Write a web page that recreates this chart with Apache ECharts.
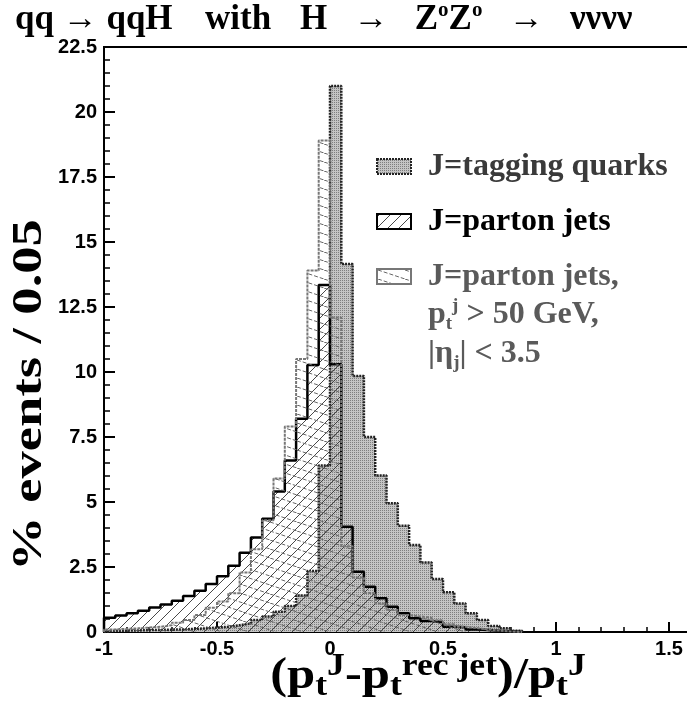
<!DOCTYPE html>
<html>
<head>
<meta charset="utf-8">
<script src="https://cdn.jsdelivr.net/npm/echarts@6.0.0/dist/echarts.min.js"></script>
<style>
html, body { margin: 0; padding: 0; background: #fff; }
#chart { width: 687px; height: 703px; }
</style>
</head>
<body>
<div id="chart"></div>
<script>
// histogram bins: 0.05 wide, first bin starts at -1
var binStart = -1;
var binWidth = 0.05;
var xTicks = [-1, -0.5, 0, 0.5, 1, 1.5];

// J = tagging quarks (grey filled)
var tagQuarks = [0.05, 0.05, 0.06, 0.07, 0.08, 0.09, 0.1, 0.12, 0.14, 0.17, 0.2, 0.26,
  0.33, 0.46, 0.6, 0.78, 1.0, 1.4, 2.35, 6.4, 21.0, 14.15, 9.85, 7.5, 6.02, 4.95,
  4.09, 3.35, 2.67, 2.04, 1.53, 1.1, 0.72, 0.46, 0.23, 0.14, 0.05];
// J = parton jets (black outline)
var partonJets = [0.55, 0.63, 0.72, 0.82, 0.94, 1.06, 1.2, 1.38, 1.59, 1.85, 2.14, 2.55,
  3.05, 3.63, 4.36, 5.4, 6.6, 8.2, 10.27, 13.35, 10.3, 4.05, 2.32, 1.74, 1.3, 0.97,
  0.72, 0.53, 0.42, 0.38, 0.2, 0.18, 0.1, 0.08, 0.05, 0.03, 0];
// J = parton jets with pt and eta cuts (grey outline)
var partonJetsCut = [0.1, 0.12, 0.14, 0.17, 0.2, 0.26, 0.36, 0.46, 0.65, 0.93, 1.17, 1.49,
  2.29, 3.18, 4.3, 5.9, 7.9, 10.5, 13.9, 18.9, 12.1, 3.3, 2.1, 1.5, 1.1, 0.85,
  0.65, 0.6, 0.55, 0.45, 0.3, 0.2, 0.15, 0.1, 0.05, 0.02, 0];

function steps(vals) {
  var pts = [[binStart, 0]];
  vals.forEach(function (v, i) {
    pts.push([+(binStart + i * binWidth).toFixed(2), v]);
  });
  pts.push([+(binStart + vals.length * binWidth).toFixed(2), 0]);
  return pts;
}

function pattern(w, h, draw) {
  var c = document.createElement('canvas');
  c.width = w;
  c.height = h;
  draw(c.getContext('2d'));
  return { image: c, repeat: 'repeat' };
}

var grayFill = pattern(2, 2, function (g) {
  g.fillStyle = '#c4c4c4';
  g.fillRect(0, 0, 2, 2);
  g.fillStyle = '#7e7e7e';
  g.fillRect(0, 0, 1, 1);
});
var fwdHatch = pattern(11, 11, function (g) {
  g.strokeStyle = '#333';
  g.lineWidth = 0.9;
  g.beginPath();
  g.moveTo(-1, 12);
  g.lineTo(12, -1);
  g.stroke();
});
var bwdHatch = pattern(27, 9, function (g) {
  g.strokeStyle = '#666';
  g.lineWidth = 1;
  g.setLineDash([4, 2]);
  g.beginPath();
  g.moveTo(0, 0);
  g.lineTo(27, 9);
  g.stroke();
});

function hist(name, vals, color, width, type, fill, z) {
  return {
    name: name,
    type: 'line',
    step: 'end',
    data: steps(vals),
    symbol: 'none',
    silent: true,
    z: z,
    lineStyle: { color: color, width: width, type: type },
    areaStyle: { color: fill, opacity: 1 }
  };
}

var serif = '"Liberation Serif", "Times New Roman", serif';
var sans = '"Liberation Sans", Arial, sans-serif';

function rich(size, lh, k) {
  var s = Math.round(size * (k || 0.6));
  return {
    m: { fontSize: size, fontWeight: 'bold', fontFamily: serif, lineHeight: lh },
    sup: { fontSize: s, fontWeight: 'bold', fontFamily: serif, verticalAlign: 'top' },
    sub: { fontSize: s, fontWeight: 'bold', fontFamily: serif, verticalAlign: 'bottom' }
  };
}

function label(x, y, text, size, color, align, k, stretch) {
  return {
    type: 'text',
    x: x,
    y: y,
    scaleX: stretch || 1,
    silent: true,
    style: {
      text: text,
      fontSize: size,
      fontWeight: 'bold',
      fontFamily: serif,
      lineHeight: Math.round(size * 1.15),
      fill: color,
      align: align || 'left',
      verticalAlign: 'middle',
      rich: rich(size, Math.round(size * 1.15), k)
    }
  };
}

var myChart = echarts.init(document.getElementById('chart'));

var option = {
  animation: false,
  backgroundColor: '#fff',
  // the frame runs past the right edge of the picture (axis is cut near 1.6)
  grid: {
    left: 104, right: -95, top: 47, bottom: 71,
    outerBoundsMode: 'none',
    show: true, borderColor: '#000', borderWidth: 2, backgroundColor: 'transparent'
  },
  xAxis: {
    type: 'value',
    min: -1, max: 2, interval: 0.5,
    axisLine: { onZero: false, lineStyle: { color: '#000', width: 2 } },
    axisTick: { inside: true, length: 10, lineStyle: { color: '#000', width: 2 } },
    minorTick: { show: true, splitNumber: 5, length: 5, lineStyle: { color: '#000', width: 1.5 } },
    splitLine: { show: false },
    axisLabel: {
      color: '#000', fontFamily: sans, fontWeight: 'bold', fontSize: 20, margin: 7,
      formatter: function (v) {
        return xTicks.indexOf(+v.toFixed(2)) >= 0 ? String(+v.toFixed(2)) : '';
      }
    }
  },
  yAxis: {
    type: 'value',
    min: 0, max: 22.5, interval: 2.5,
    axisLine: { show: true, onZero: false, lineStyle: { color: '#000', width: 2 } },
    axisTick: { show: true, inside: true, length: 11, lineStyle: { color: '#000', width: 2 } },
    minorTick: { show: true, splitNumber: 5, length: 6, lineStyle: { color: '#000', width: 1.5 } },
    splitLine: { show: false },
    axisLabel: { color: '#000', fontFamily: sans, fontWeight: 'bold', fontSize: 20, margin: 7 }
  },
  series: [
    hist('J=tagging quarks', tagQuarks, '#222', 2.5, [2, 1], grayFill, 1),
    hist('J=parton jets', partonJets, '#000', 2.5, 'solid', fwdHatch, 2),
    hist('J=parton jets cut', partonJetsCut, '#777', 2, [3, 1], bwdHatch, 3)
  ],
  graphic: [
    // title
    label(15, 20, '{m|qq → qqH}', 35, '#000'),
    label(205, 20, '{m|with}', 35, '#000'),
    label(300, 20, '{m|H   →   Z}{sup|o}{m|Z}{sup|o}{m|   →   νννν}', 35, '#000'),
    // axis titles
    label(428, 677, '{m|(p}{sub|t}{sup|J}{m|-p}{sub|t}{sup|rec jet}{m|)/p}{sub|t}{sup|J}', 44, '#000', 'center', 0.7, 1.15),
    {
      type: 'text', x: 30, y: 395, rotation: Math.PI / 2, scaleX: 1.3, silent: true,
      style: {
        text: '% events / 0.05', fontSize: 42, fontWeight: 'bold', fontFamily: serif,
        fill: '#000', align: 'center', verticalAlign: 'middle'
      }
    },
    // legend
    { type: 'rect', silent: true, shape: { x: 377, y: 159, width: 34, height: 15 },
      style: { fill: grayFill, stroke: '#222', lineWidth: 2, lineDash: [2, 1] } },
    { type: 'rect', silent: true, shape: { x: 377, y: 214, width: 34, height: 15 },
      style: { fill: fwdHatch, stroke: '#000', lineWidth: 2 } },
    { type: 'rect', silent: true, shape: { x: 377, y: 269, width: 34, height: 15 },
      style: { fill: bwdHatch, stroke: '#777', lineWidth: 2 } },
    label(428, 167, '{m|J=tagging quarks}', 32, '#3a3a3a'),
    label(428, 222, '{m|J=parton jets}', 32, '#000'),
    label(428, 277, '{m|J=parton jets,}', 32, '#5a5a5a'),
    label(428, 315, '{m|p}{sub|t}{sup|j}{m| > 50 GeV,}', 32, '#5a5a5a'),
    label(428, 354, '{m||η}{sub|j}{m|| < 3.5}', 32, '#5a5a5a')
  ]
};

myChart.setOption(option);
</script>
</body>
</html>
